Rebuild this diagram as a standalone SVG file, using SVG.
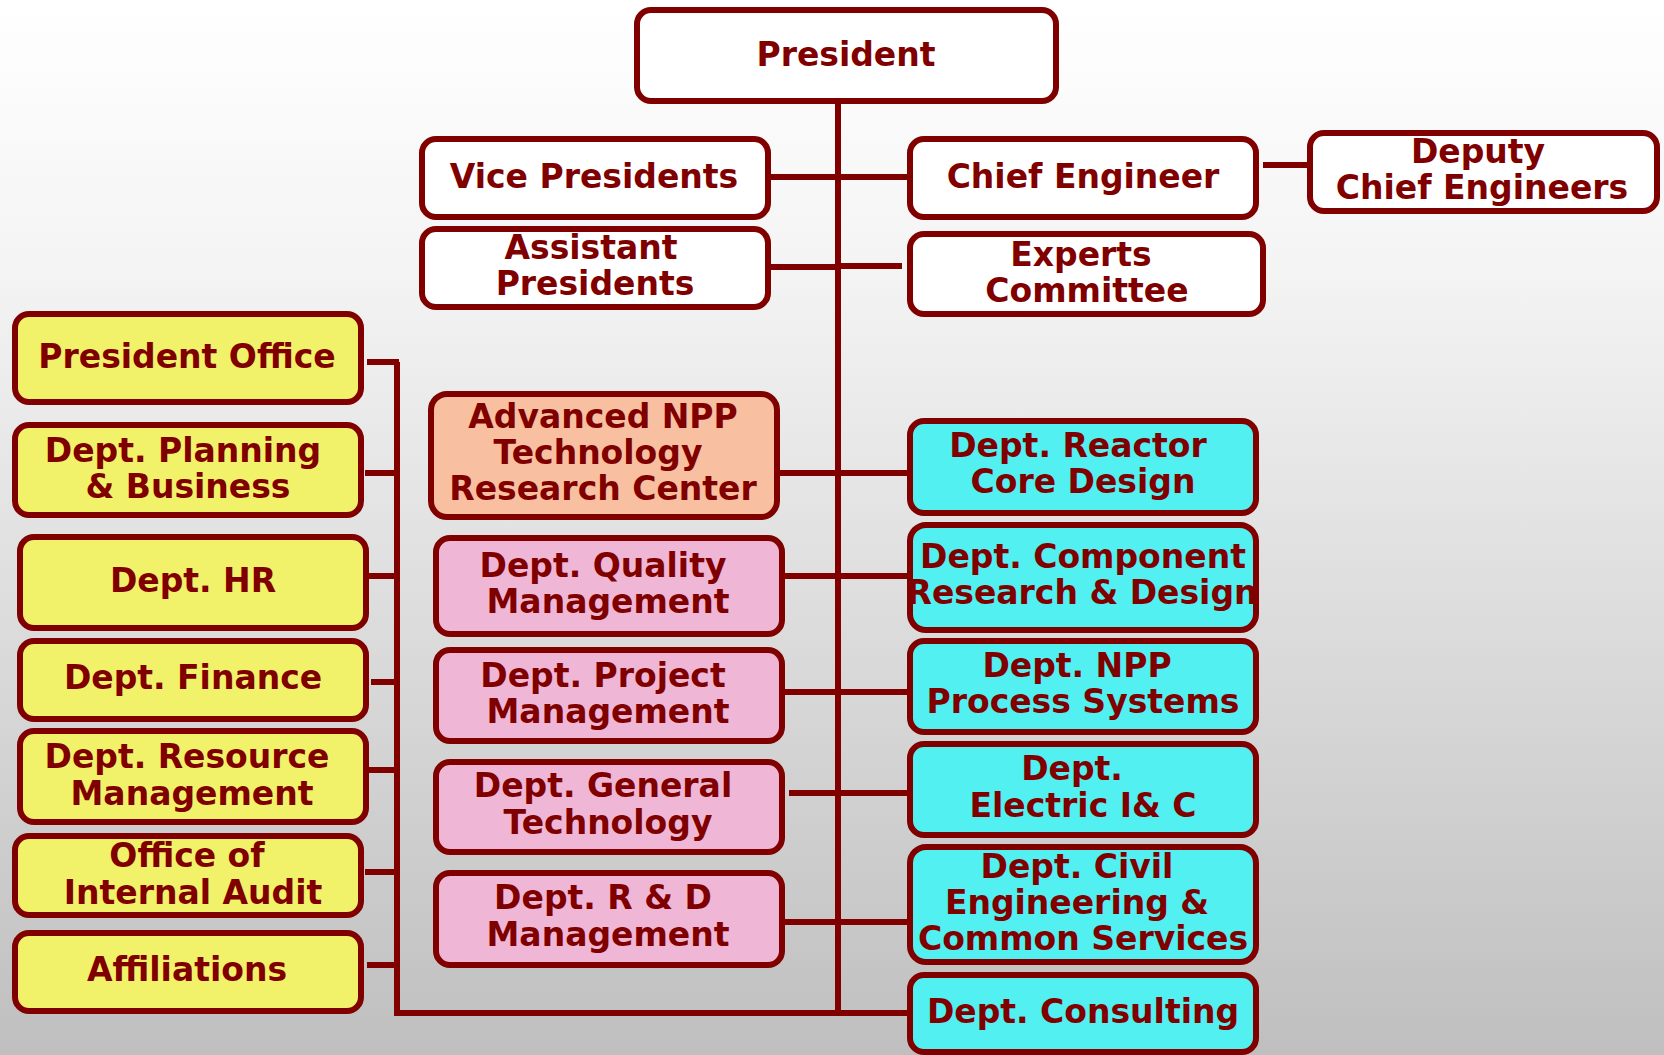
<svg xmlns="http://www.w3.org/2000/svg" width="1664" height="1055" viewBox="0 0 1664 1055">
<defs>
<linearGradient id="bg" x1="0" y1="0" x2="0" y2="1">
<stop offset="0" stop-color="#ffffff"/>
<stop offset="0.25" stop-color="#f4f4f4"/>
<stop offset="1" stop-color="#bfbfbf"/>
</linearGradient>
<style>
.box{stroke:#800000;stroke-width:6}
.w{fill:#ffffff}
.y{fill:#f2f26a}
.s{fill:#f8bfa0}
.p{fill:#efb6d6}
.c{fill:#52f0f0}
text{font-family:"DejaVu Sans","Verdana",sans-serif;font-weight:bold;font-size:33px;fill:#800000;text-anchor:middle}
.ln{stroke:#800000;stroke-width:6;fill:none}
</style>
</defs>
<rect x="0" y="0" width="1664" height="1055" fill="url(#bg)"/>

<g id="connectors">
<path class="ln" d="M838 102 V1013" stroke-width="5"/>
<path class="ln" d="M768 177 H910"/>
<path class="ln" d="M1263 165 H1309"/>
<path class="ln" d="M768 267 H838"/>
<path class="ln" d="M838 266 H902"/>
<path class="ln" d="M397 362 V1016" stroke-width="5"/>
<path class="ln" d="M367 362 H399"/>
<path class="ln" d="M365 473 H397"/>
<path class="ln" d="M367 576 H397"/>
<path class="ln" d="M371 682 H397"/>
<path class="ln" d="M367 770 H397"/>
<path class="ln" d="M365 872 H397"/>
<path class="ln" d="M367 965 H397"/>
<path class="ln" d="M395 1013 H910"/>
<path class="ln" d="M780 473 H909"/>
<path class="ln" d="M782 576 H909"/>
<path class="ln" d="M782 692 H909"/>
<path class="ln" d="M789 793 H917"/>
<path class="ln" d="M772 922 H915"/>
</g>

<g id="president"><rect class="box w" x="637" y="10" width="419" height="91" rx="14"/><text x="846" y="66">President</text></g>
<g id="vice-presidents"><rect class="box w" x="422" y="139" width="346" height="78" rx="14"/><text x="594" y="188">Vice Presidents</text></g>
<g id="assistant-presidents"><rect class="box w" x="422" y="229" width="346" height="78" rx="14"/><text x="591" y="259">Assistant</text><text x="595" y="295">Presidents</text></g>
<g id="chief-engineer"><rect class="box w" x="910" y="139" width="346" height="78" rx="14"/><text x="1083" y="188">Chief Engineer</text></g>
<g id="deputy-chief-engineers"><rect class="box w" x="1310" y="133" width="347" height="78" rx="14"/><text x="1478" y="163">Deputy</text><text x="1482" y="199">Chief Engineers</text></g>
<g id="experts-committee"><rect class="box w" x="910" y="234" width="353" height="80" rx="14"/><text x="1081" y="266">Experts</text><text x="1087" y="302">Committee</text></g>

<g id="president-office"><rect class="box y" x="15" y="314" width="346" height="88" rx="14"/><text x="187" y="368">President Office</text></g>
<g id="dept-planning"><rect class="box y" x="15" y="425" width="346" height="90" rx="14"/><text x="183" y="462">Dept. Planning</text><text x="188" y="498">&amp; Business</text></g>
<g id="dept-hr"><rect class="box y" x="20" y="537" width="346" height="91" rx="14"/><text x="193" y="592">Dept. HR</text></g>
<g id="dept-finance"><rect class="box y" x="20" y="641" width="346" height="78" rx="14"/><text x="193" y="689">Dept. Finance</text></g>
<g id="dept-resource"><rect class="box y" x="20" y="731" width="346" height="91" rx="14"/><text x="187" y="768">Dept. Resource</text><text x="192" y="805">Management</text></g>
<g id="internal-audit"><rect class="box y" x="15" y="836" width="346" height="79" rx="14"/><text x="187" y="867">Office of</text><text x="193" y="904">Internal Audit</text></g>
<g id="affiliations"><rect class="box y" x="15" y="933" width="346" height="78" rx="14"/><text x="187" y="981">Affiliations</text></g>

<g id="advanced-npp"><rect class="box s" x="431" y="394" width="346" height="123" rx="16"/><text x="603" y="428">Advanced NPP</text><text x="598" y="464">Technology</text><text x="603" y="500">Research Center</text></g>
<g id="dept-quality"><rect class="box p" x="436" y="538" width="346" height="96" rx="14"/><text x="603" y="577">Dept. Quality</text><text x="608" y="613">Management</text></g>
<g id="dept-project"><rect class="box p" x="436" y="650" width="346" height="91" rx="14"/><text x="603" y="687">Dept. Project</text><text x="608" y="723">Management</text></g>
<g id="dept-general"><rect class="box p" x="436" y="762" width="346" height="90" rx="14"/><text x="603" y="797">Dept. General</text><text x="608" y="834">Technology</text></g>
<g id="dept-rd"><rect class="box p" x="436" y="873" width="346" height="92" rx="14"/><text x="603" y="909">Dept. R &amp; D</text><text x="608" y="946">Management</text></g>

<g id="dept-reactor"><rect class="box c" x="910" y="421" width="346" height="92" rx="14"/><text x="1078" y="457">Dept. Reactor</text><text x="1083" y="493">Core Design</text></g>
<g id="dept-component"><rect class="box c" x="910" y="525" width="346" height="105" rx="16"/><text x="1083" y="568">Dept. Component</text><text x="1082" y="604">Research &amp; Design</text></g>
<g id="dept-npp"><rect class="box c" x="910" y="641" width="346" height="91" rx="14"/><text x="1077" y="677">Dept. NPP</text><text x="1083" y="713">Process Systems</text></g>
<g id="dept-electric"><rect class="box c" x="910" y="744" width="346" height="91" rx="14"/><text x="1072" y="780">Dept.</text><text x="1083" y="817">Electric I&amp; C</text></g>
<g id="dept-civil"><rect class="box c" x="910" y="847" width="346" height="115" rx="16"/><text x="1077" y="878">Dept. Civil</text><text x="1077" y="914">Engineering &amp;</text><text x="1083" y="950">Common Services</text></g>
<g id="dept-consulting"><rect class="box c" x="910" y="975" width="346" height="77" rx="14"/><text x="1083" y="1023">Dept. Consulting</text></g>
</svg>
